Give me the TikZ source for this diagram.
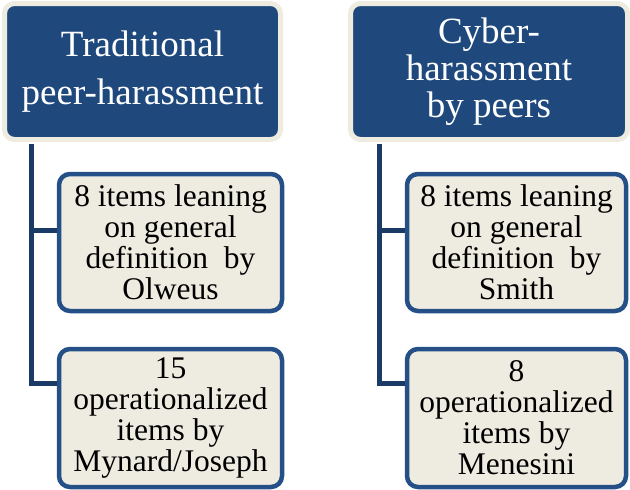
\documentclass[tikz,border=0pt]{standalone}
\usepackage{fontspec}
\setmainfont{Liberation Serif}
\definecolor{hdrblue}{HTML}{1F497D}
\definecolor{boxblue}{HTML}{245087}
\definecolor{linkblue}{HTML}{1A3B66}
\definecolor{cream}{HTML}{EEECE1}
\tikzset{
	hdr/.style = {draw = cream, fill = hdrblue, line width = 5pt, rounded corners = 10pt, text = white, align = center, font = \fontsize{37}{37}\selectfont, inner sep = 0pt},
	itembox/.style = {draw = boxblue, fill = cream, line width = 4.5pt, rounded corners = 11pt, align = center, font = \fontsize{31.5}{31}\selectfont, inner sep = 0pt},
	conn/.style = {draw = linkblue, line width = 5pt, line join = miter}
}
\begin{document}
\begin{tikzpicture}[x = 1pt, y = -1pt]
		\useasboundingbox (0,0) rectangle (630,490);
		\coordinate (tb1) at (31.5,230);
		\coordinate (tb2) at (31.5,383);
		\coordinate (cb1) at (379.5,230);
		\coordinate (cb2) at (379.5,383);
		
		\node[hdr, minimum width = 276pt, minimum height = 136pt] (trad) at (142.5,71.5) {Traditional\\[11pt]peer-harassment};
		\node[hdr, minimum width = 277pt, minimum height = 136pt] (cyber) at (489,71.5) {Cyber-\\harassment\\by peers};
		
		\node[itembox, minimum width = 223pt, minimum height = 137pt] (trad1) at (170.5,242.5) {8 items leaning\\on general\\definition\ \ by\\Olweus};
		\node[itembox, minimum width = 223pt, minimum height = 138pt] (trad2) at (170.5,418) {15\\operationalized\\items by\\Mynard/Joseph};
		\node[itembox, minimum width = 219pt, minimum height = 137pt] (cyber1) at (516.5,242.5) {8 items leaning\\on general\\definition\ \ by\\Smith};
		\node[itembox, minimum width = 219pt, minimum height = 138pt] (cyber2) at (516.5,418) {8\\operationalized\\items by\\Menesini};
		
		\draw[conn] ([yshift = -2pt]trad.south -| tb1) -- (tb2) -- (tb2 -| trad2.west);
		\draw[conn] (tb1) -- (tb1 -| trad1.west);
		\draw[conn] ([yshift = -2pt]cyber.south -| cb1) -- (cb2) -- (cb2 -| cyber2.west);
		\draw[conn] (cb1) -- (cb1 -| cyber1.west);
	\end{tikzpicture}
\end{document}
